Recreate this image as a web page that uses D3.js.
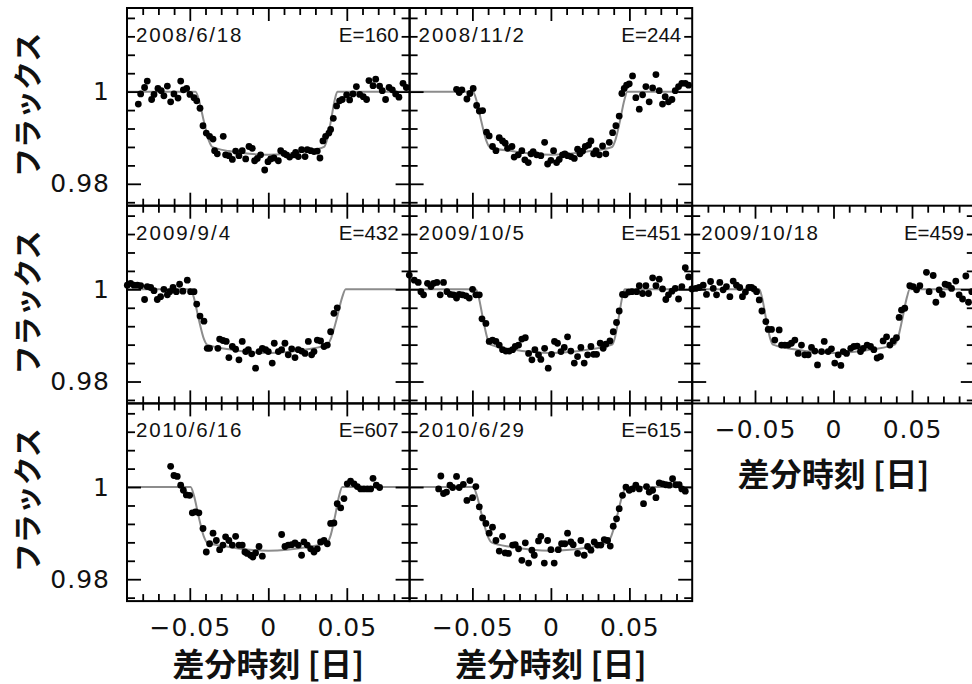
<!DOCTYPE html>
<html><head><meta charset="utf-8">
<script src="https://cdn.jsdelivr.net/npm/d3@7"></script>
<style>body{margin:0;background:#fff}svg{display:block}</style>
</head><body>
<svg id="c" width="972" height="684"></svg>
<script>
// ---------------- data ----------------
const xDomain = [-0.09, 0.09];
const yDomain = [0.97525, 1.01815];
const xMajorTicks = [-0.05, 0, 0.05];
const xTickLabels = ["\u22120.05", "0", "0.05"];
const xMinorTicks = [-0.08,-0.07,-0.06,-0.04,-0.03,-0.02,-0.01,0.01,0.02,0.03,0.04,0.06,0.07,0.08];
const yMajorTicks = [0.98, 1.0];
const yTickLabels = ["0.98", "1"];
const yMinorTicks = [0.976,0.984,0.988,0.992,0.996,1.004,1.008,1.012,1.016];
const panelDates = ["2008/6/18","2008/11/2","2009/9/4","2009/10/5","2009/10/18","2010/6/16","2010/6/29"];
const panelEpochs = [160, 244, 432, 451, 459, 607, 615];
const yTitle = "フラックス";
const xTitle = "差分時刻 [日]";

const obs160 = [[-0.0828,0.9973],[-0.0813,0.9995],[-0.0788,1.0009],[-0.0771,1.0023],[-0.0743,0.9983],[-0.0728,0.9994],[-0.0703,1.0007],[-0.0682,1.0002],[-0.0665,0.9991],[-0.0643,1.0012],[-0.0622,0.9978],[-0.0601,0.9995],[-0.0575,0.9986],[-0.0558,1.0023],[-0.0541,1.0004],[-0.0520,1.0007],[-0.0499,0.9994],[-0.0473,0.9987],[-0.0456,0.9980],[-0.0435,0.9964],[-0.0416,0.9926],[-0.0395,0.9910],[-0.0374,0.9903],[-0.0352,0.9897],[-0.0342,0.9872],[-0.0325,0.9865],[-0.0287,0.9903],[-0.0272,0.9863],[-0.0251,0.9861],[-0.0229,0.9853],[-0.0208,0.9871],[-0.0187,0.9861],[-0.0166,0.9872],[-0.0144,0.9854],[-0.0123,0.9881],[-0.0102,0.9877],[-0.0087,0.9850],[-0.0070,0.9855],[-0.0049,0.9863],[-0.0023,0.9830],[-0.0002,0.9848],[0.0015,0.9854],[0.0036,0.9856],[0.0064,0.9850],[0.0079,0.9872],[0.0100,0.9866],[0.0115,0.9863],[0.0136,0.9858],[0.0163,0.9863],[0.0174,0.9868],[0.0191,0.9859],[0.0212,0.9874],[0.0234,0.9859],[0.0248,0.9874],[0.0270,0.9872],[0.0291,0.9870],[0.0312,0.9871],[0.0329,0.9856],[0.0348,0.9893],[0.0365,0.9903],[0.0386,0.9910],[0.0397,0.9918],[0.0414,0.9942],[0.0435,0.9969],[0.0454,0.9980],[0.0471,0.9983],[0.0499,0.9993],[0.0518,0.9982],[0.0539,0.9995],[0.0561,1.0011],[0.0582,0.9994],[0.0605,0.9989],[0.0626,0.9983],[0.0641,1.0024],[0.0667,1.0013],[0.0684,1.0027],[0.0709,1.0012],[0.0726,1.0002],[0.0747,0.9983],[0.0769,1.0009],[0.0790,1.0004],[0.0811,0.9995],[0.0832,0.9988],[0.0858,1.0018],[0.0879,1.0009]];

const obs244 = [[-0.0601,1.0005],[-0.0584,0.9998],[-0.0567,1.0004],[-0.0535,0.9984],[-0.0516,0.9996],[-0.0495,1.0007],[-0.0473,0.9970],[-0.0456,0.9958],[-0.0435,0.9959],[-0.0410,0.9912],[-0.0393,0.9904],[-0.0372,0.9881],[-0.0350,0.9872],[-0.0329,0.9900],[-0.0308,0.9893],[-0.0291,0.9888],[-0.0276,0.9877],[-0.0248,0.9881],[-0.0234,0.9858],[-0.0208,0.9863],[-0.0185,0.9872],[-0.0166,0.9852],[-0.0144,0.9846],[-0.0127,0.9865],[-0.0113,0.9870],[-0.0091,0.9863],[-0.0064,0.9861],[-0.0040,0.9890],[-0.0021,0.9843],[0.0000,0.9851],[0.0017,0.9872],[0.0036,0.9846],[0.0053,0.9853],[0.0074,0.9863],[0.0089,0.9865],[0.0106,0.9861],[0.0127,0.9859],[0.0149,0.9855],[0.0170,0.9875],[0.0185,0.9865],[0.0202,0.9871],[0.0219,0.9881],[0.0240,0.9884],[0.0255,0.9893],[0.0272,0.9865],[0.0287,0.9872],[0.0308,0.9863],[0.0329,0.9882],[0.0350,0.9865],[0.0372,0.9890],[0.0393,0.9911],[0.0414,0.9926],[0.0435,0.9947],[0.0452,0.9996],[0.0467,1.0007],[0.0482,1.0014],[0.0499,1.0017],[0.0520,1.0034],[0.0541,0.9987],[0.0563,0.9962],[0.0584,0.9993],[0.0605,1.0011],[0.0626,0.9978],[0.0648,1.0008],[0.0669,1.0037],[0.0690,1.0002],[0.0711,0.9973],[0.0728,0.9989],[0.0749,0.9978],[0.0771,0.9983],[0.0792,1.0002],[0.0813,1.0011],[0.0834,1.0018],[0.0856,1.0018],[0.0877,1.0014]];

const obs432 = [[-0.0898,1.0009],[-0.0877,1.0013],[-0.0856,1.0009],[-0.0834,1.0009],[-0.0813,1.0008],[-0.0788,0.9978],[-0.0771,1.0006],[-0.0749,1.0004],[-0.0728,0.9997],[-0.0707,0.9978],[-0.0686,0.9984],[-0.0665,1.0000],[-0.0643,0.9988],[-0.0628,0.9995],[-0.0607,1.0004],[-0.0586,0.9995],[-0.0565,1.0011],[-0.0544,0.9996],[-0.0516,1.0020],[-0.0495,0.9995],[-0.0473,0.9995],[-0.0456,0.9968],[-0.0435,0.9942],[-0.0410,0.9931],[-0.0389,0.9872],[-0.0374,0.9872],[-0.0321,0.9872],[-0.0310,0.9892],[-0.0289,0.9889],[-0.0268,0.9887],[-0.0251,0.9852],[-0.0229,0.9876],[-0.0208,0.9870],[-0.0187,0.9847],[-0.0166,0.9887],[-0.0144,0.9865],[-0.0127,0.9869],[-0.0106,0.9860],[-0.0081,0.9829],[-0.0059,0.9865],[-0.0038,0.9872],[-0.0017,0.9869],[0.0000,0.9865],[0.0025,0.9840],[0.0038,0.9883],[0.0064,0.9865],[0.0085,0.9869],[0.0106,0.9883],[0.0127,0.9858],[0.0149,0.9871],[0.0170,0.9852],[0.0191,0.9869],[0.0212,0.9866],[0.0234,0.9861],[0.0255,0.9887],[0.0276,0.9858],[0.0291,0.9865],[0.0312,0.9890],[0.0333,0.9888],[0.0355,0.9876],[0.0376,0.9879],[0.0397,0.9908],[0.0418,0.9948],[0.0439,0.9960]];

const obs451 = [[-0.0902,1.0031],[-0.0870,1.0020],[-0.0845,1.0015],[-0.0828,0.9995],[-0.0811,0.9988],[-0.0786,1.0013],[-0.0764,1.0006],[-0.0747,1.0013],[-0.0726,1.0015],[-0.0705,0.9988],[-0.0684,1.0015],[-0.0662,0.9995],[-0.0641,0.9989],[-0.0620,0.9988],[-0.0601,0.9981],[-0.0584,0.9989],[-0.0563,0.9988],[-0.0541,0.9986],[-0.0520,0.9981],[-0.0499,1.0000],[-0.0478,0.9988],[-0.0456,0.9988],[-0.0439,0.9936],[-0.0414,0.9926],[-0.0393,0.9887],[-0.0372,0.9890],[-0.0350,0.9887],[-0.0329,0.9879],[-0.0308,0.9869],[-0.0287,0.9866],[-0.0265,0.9866],[-0.0244,0.9869],[-0.0227,0.9876],[-0.0206,0.9879],[-0.0185,0.9892],[-0.0163,0.9895],[-0.0142,0.9861],[-0.0121,0.9847],[-0.0102,0.9869],[-0.0079,0.9858],[-0.0064,0.9848],[-0.0040,0.9872],[-0.0017,0.9829],[0.0004,0.9859],[0.0023,0.9887],[0.0042,0.9883],[0.0064,0.9865],[0.0085,0.9874],[0.0106,0.9897],[0.0127,0.9866],[0.0149,0.9840],[0.0170,0.9854],[0.0191,0.9874],[0.0212,0.9840],[0.0234,0.9858],[0.0255,0.9876],[0.0272,0.9859],[0.0291,0.9859],[0.0314,0.9883],[0.0333,0.9872],[0.0350,0.9881],[0.0376,0.9888],[0.0397,0.9908],[0.0418,0.9928],[0.0435,0.9953],[0.0456,0.9989],[0.0473,0.9988],[0.0495,0.9994],[0.0516,0.9995],[0.0546,0.9995],[0.0563,1.0008],[0.0584,0.9991],[0.0605,1.0008],[0.0622,0.9991],[0.0648,1.0025],[0.0669,1.0008],[0.0690,1.0022],[0.0711,1.0001],[0.0732,0.9978],[0.0749,0.9988],[0.0771,0.9996],[0.0792,1.0002],[0.0813,0.9979],[0.0834,1.0006],[0.0856,1.0047],[0.0877,1.0027],[0.0898,1.0001]];

const obs459 = [[-0.0877,1.0002],[-0.0856,1.0004],[-0.0830,1.0009],[-0.0809,0.9989],[-0.0783,1.0017],[-0.0766,1.0002],[-0.0745,0.9988],[-0.0724,1.0015],[-0.0703,0.9999],[-0.0682,1.0006],[-0.0660,0.9984],[-0.0639,1.0018],[-0.0618,1.0009],[-0.0597,1.0004],[-0.0580,0.9984],[-0.0561,0.9994],[-0.0539,1.0004],[-0.0522,1.0004],[-0.0507,1.0001],[-0.0490,0.9995],[-0.0473,0.9977],[-0.0456,0.9953],[-0.0431,0.9930],[-0.0416,0.9913],[-0.0395,0.9913],[-0.0374,0.9890],[-0.0346,0.9912],[-0.0331,0.9879],[-0.0310,0.9879],[-0.0289,0.9879],[-0.0268,0.9883],[-0.0246,0.9890],[-0.0225,0.9861],[-0.0204,0.9879],[-0.0183,0.9858],[-0.0161,0.9858],[-0.0140,0.9874],[-0.0119,0.9866],[-0.0102,0.9836],[-0.0076,0.9865],[-0.0059,0.9887],[-0.0034,0.9865],[-0.0013,0.9871],[0.0008,0.9840],[0.0030,0.9858],[0.0047,0.9835],[0.0062,0.9865],[0.0083,0.9861],[0.0110,0.9872],[0.0130,0.9876],[0.0151,0.9877],[0.0172,0.9865],[0.0189,0.9872],[0.0214,0.9879],[0.0236,0.9876],[0.0257,0.9869],[0.0278,0.9851],[0.0299,0.9854],[0.0316,0.9888],[0.0338,0.9897],[0.0359,0.9879],[0.0380,0.9888],[0.0401,0.9895],[0.0418,0.9939],[0.0433,0.9955],[0.0454,0.9959],[0.0486,1.0008],[0.0507,1.0006],[0.0529,0.9999],[0.0550,1.0008],[0.0592,1.0037],[0.0609,0.9995],[0.0635,1.0030],[0.0652,0.9972],[0.0673,0.9999],[0.0694,0.9989],[0.0711,1.0011],[0.0732,1.0009],[0.0752,1.0002],[0.0779,1.0018],[0.0800,0.9988],[0.0822,0.9979],[0.0843,1.0029],[0.0860,0.9972],[0.0881,0.9995]];

const obs607 = [[-0.0622,1.0045],[-0.0601,1.0025],[-0.0580,1.0023],[-0.0558,1.0004],[-0.0541,0.9993],[-0.0522,0.9983],[-0.0501,0.9982],[-0.0484,0.9944],[-0.0463,0.9946],[-0.0442,0.9944],[-0.0416,0.9910],[-0.0395,0.9859],[-0.0374,0.9877],[-0.0352,0.9900],[-0.0331,0.9884],[-0.0310,0.9864],[-0.0289,0.9874],[-0.0272,0.9892],[-0.0251,0.9884],[-0.0229,0.9874],[-0.0208,0.9893],[-0.0187,0.9874],[-0.0166,0.9874],[-0.0149,0.9859],[-0.0134,0.9856],[-0.0113,0.9852],[-0.0098,0.9848],[-0.0081,0.9857],[-0.0059,0.9871],[-0.0038,0.9850],[0.0085,0.9897],[0.0106,0.9871],[0.0127,0.9874],[0.0149,0.9875],[0.0170,0.9879],[0.0191,0.9874],[0.0212,0.9852],[0.0227,0.9881],[0.0248,0.9874],[0.0270,0.9866],[0.0291,0.9859],[0.0312,0.9866],[0.0333,0.9881],[0.0355,0.9884],[0.0376,0.9877],[0.0397,0.9921],[0.0418,0.9922],[0.0439,0.9964],[0.0461,0.9955],[0.0482,0.9975],[0.0503,1.0007],[0.0524,1.0013],[0.0546,1.0007],[0.0567,1.0001],[0.0588,0.9996],[0.0609,0.9996],[0.0631,0.9996],[0.0652,0.9996],[0.0667,1.0019],[0.0688,1.0004],[0.0709,0.9999]];

const obs615 = [[-0.0715,0.9996],[-0.0701,1.0024],[-0.0684,0.9986],[-0.0665,0.9989],[-0.0643,1.0004],[-0.0626,0.9999],[-0.0601,1.0023],[-0.0584,0.9999],[-0.0558,1.0006],[-0.0535,0.9971],[-0.0516,1.0014],[-0.0499,0.9977],[-0.0478,1.0001],[-0.0456,0.9957],[-0.0435,0.9933],[-0.0414,0.9921],[-0.0393,0.9900],[-0.0372,0.9913],[-0.0350,0.9884],[-0.0329,0.9861],[-0.0308,0.9893],[-0.0291,0.9857],[-0.0270,0.9856],[-0.0244,0.9874],[-0.0227,0.9875],[-0.0206,0.9866],[-0.0185,0.9841],[-0.0163,0.9879],[-0.0142,0.9835],[-0.0121,0.9863],[-0.0106,0.9852],[-0.0079,0.9883],[-0.0064,0.9893],[-0.0042,0.9835],[-0.0021,0.9884],[0.0000,0.9864],[0.0021,0.9835],[0.0047,0.9864],[0.0068,0.9877],[0.0089,0.9877],[0.0106,0.9900],[0.0127,0.9881],[0.0142,0.9875],[0.0170,0.9856],[0.0191,0.9884],[0.0212,0.9852],[0.0234,0.9871],[0.0255,0.9863],[0.0276,0.9881],[0.0297,0.9874],[0.0318,0.9874],[0.0340,0.9886],[0.0361,0.9884],[0.0378,0.9872],[0.0397,0.9915],[0.0418,0.9931],[0.0435,0.9953],[0.0456,0.9982],[0.0478,1.0000],[0.0499,0.9993],[0.0520,0.9996],[0.0541,1.0004],[0.0563,0.9996],[0.0590,0.9964],[0.0609,1.0001],[0.0626,0.9989],[0.0648,0.9993],[0.0669,0.9977],[0.0690,1.0009],[0.0711,1.0007],[0.0732,1.0005],[0.0754,1.0004],[0.0775,1.0018],[0.0796,1.0005],[0.0817,1.0005],[0.0834,0.9996],[0.0856,0.9991]];

// model light curves (key points)
const model160 = [[-0.09,1],[-0.0463,1],[-0.0442,0.9982],[-0.0410,0.9935],[-0.0378,0.9893],[-0.0357,0.9880],[-0.025,0.9871],[-0.012,0.9865],[0,0.9863],[0.012,0.9865],[0.025,0.9871],[0.0355,0.9880],[0.0372,0.9893],[0.0398,0.9935],[0.0423,0.9982],[0.0440,1],[0.09,1]];
const model244 = [[-0.09,1],[-0.0496,1],[-0.0475,0.9982],[-0.0443,0.9935],[-0.0411,0.9893],[-0.0390,0.9880],[-0.025,0.9871],[-0.012,0.9865],[0,0.9863],[0.012,0.9865],[0.025,0.9871],[0.0390,0.9880],[0.0409,0.9893],[0.0439,0.9935],[0.0468,0.9982],[0.0487,1],[0.09,1]];
const model432 = [[-0.09,1],[-0.0495,1],[-0.0474,0.9982],[-0.0443,0.9935],[-0.0411,0.9893],[-0.0390,0.9880],[-0.025,0.9870],[-0.012,0.9864],[0,0.9862],[0.012,0.9864],[0.025,0.9870],[0.0376,0.9880],[0.0399,0.9893],[0.0435,0.9935],[0.0470,0.9982],[0.0493,1],[0.09,1]];
const model451 = [[-0.09,1],[-0.0478,1],[-0.0459,0.9982],[-0.0432,0.9935],[-0.0404,0.9893],[-0.0385,0.9880],[-0.025,0.9870],[-0.012,0.9864],[0,0.9862],[0.012,0.9864],[0.025,0.9870],[0.0390,0.9880],[0.0406,0.9893],[0.0430,0.9935],[0.0454,0.9982],[0.0470,1],[0.09,1]];
const model459 = [[-0.09,1],[-0.0473,1],[-0.0455,0.9982],[-0.0429,0.9935],[-0.0403,0.9893],[-0.0385,0.9880],[-0.025,0.9870],[-0.012,0.9864],[0,0.9862],[0.012,0.9864],[0.025,0.9870],[0.0390,0.9880],[0.0409,0.9893],[0.0438,0.9935],[0.0467,0.9982],[0.0486,1],[0.09,1]];
const model607 = [[-0.09,1],[-0.0495,1],[-0.0474,0.9982],[-0.0443,0.9935],[-0.0411,0.9893],[-0.0390,0.9880],[-0.025,0.9870],[-0.012,0.9864],[0,0.9862],[0.012,0.9864],[0.025,0.9870],[0.0376,0.9880],[0.0395,0.9893],[0.0424,0.9935],[0.0452,0.9982],[0.0471,1],[0.09,1]];
const model615 = [[-0.09,1],[-0.0495,1],[-0.0472,0.9982],[-0.0437,0.9935],[-0.0402,0.9893],[-0.0378,0.9880],[-0.025,0.9870],[-0.012,0.9864],[0,0.9862],[0.012,0.9864],[0.025,0.9870],[0.0361,0.9880],[0.0384,0.9893],[0.0420,0.9935],[0.0455,0.9982],[0.0478,1],[0.09,1]];

const observations = [obs160, obs244, obs432, obs451, obs459, obs607, obs615];
const models = [model160, model244, model432, model451, model459, model607, model615];

// ---------------- layout ----------------
const PW = 282.6, PH = 197.7;
const colLeft = [127, 409.6, 692.2];
const rowTop = [8, 205.7, 403.4];
const gridPos = [[0,0],[1,0],[0,1],[1,1],[2,1],[0,2],[1,2]];
const bottomLabelled = [false,false,false,false,true,true,true];
const xTitleBaseline = {1: 486, 2: 676};

const svg = d3.select("#c");
const x = d3.scaleLinear().domain(xDomain).range([0, PW]);
const y = d3.scaleLinear().domain(yDomain).range([PH, 0]);
const line = d3.line().x(d => x(d[0])).y(d => y(d[1])).curve(d3.curveMonotoneX);

const tickFont = "'DejaVu Sans', Verdana, sans-serif";
const labelFont = "'Liberation Sans', Arial, sans-serif";

function styleAxis(sel) {
  sel.select(".domain").remove();
  sel.selectAll(".tick line").attr("stroke", "#000").attr("stroke-width", 1.8);
  sel.selectAll(".tick text").attr("fill", "#111").attr("font-size", 25)
     .attr("font-family", tickFont).attr("letter-spacing", "1px");
}

panelDates.forEach((date, i) => {
  const [c, r] = gridPos[i];
  const g = svg.append("g").attr("transform", `translate(${colLeft[c]},${rowTop[r]})`);

  // model curve
  g.append("path").datum(models[i]).attr("d", line)
    .attr("fill", "none").attr("stroke", "#8c8c8c").attr("stroke-width", 2);

  // observations
  g.append("g").selectAll("circle").data(observations[i]).join("circle")
    .attr("cx", d => x(d[0])).attr("cy", d => y(d[1])).attr("r", 3.4).attr("fill", "#000");

  // ticks: minor then major on all four sides
  const sides = [
    [d3.axisBottom, `translate(0,${PH})`, x, xMinorTicks, xMajorTicks, -7, -13],
    [d3.axisTop, `translate(0,0)`, x, xMinorTicks, xMajorTicks, -7, -13],
    [d3.axisLeft, `translate(0,0)`, y, yMinorTicks, yMajorTicks, -8, -14],
    [d3.axisRight, `translate(${PW},0)`, y, yMinorTicks, yMajorTicks, -8, -14]
  ];
  sides.forEach(([axFn, tr, sc, minor, major, lmin, lmaj], k) => {
    g.append("g").attr("transform", tr)
      .call(axFn(sc).tickValues(minor).tickSize(lmin).tickFormat(""))
      .call(styleAxis);
    let ax = axFn(sc).tickValues(major).tickSize(lmaj);
    const labelled = (k === 0 && bottomLabelled[i]) || (k === 2 && c === 0);
    if (k === 0) ax = ax.tickPadding(17).tickFormat((d, j) => labelled ? xTickLabels[j] : "");
    else if (k === 2) ax = ax.tickPadding(17).tickFormat((d, j) => labelled ? yTickLabels[j] : "");
    else ax = ax.tickFormat("");
    g.append("g").attr("transform", tr).call(ax).call(styleAxis);
  });

  // frame
  g.append("rect").attr("x", 0).attr("y", 0).attr("width", PW).attr("height", PH)
    .attr("fill", "none").attr("stroke", "#000").attr("stroke-width", 2);

  // panel labels
  const slashes = (date.match(/\//g) || []).length;
  g.append("text").attr("x", 9).attr("y", 34)
    .attr("font-family", labelFont).attr("font-size", 20.5).attr("fill", "#111")
    .attr("textLength", (date.length - slashes) * 11.2 + slashes * 13.5).attr("lengthAdjust", "spacing")
    .text(date);
  g.append("text").attr("x", PW - 11).attr("y", 34).attr("text-anchor", "end")
    .attr("font-family", labelFont).attr("font-size", 20.5).attr("fill", "#111")
    .text("E=" + panelEpochs[i]);

  // axis titles
  if (c === 0) {
    svg.append("text")
      .attr("transform", `translate(26,${rowTop[r] + PH / 2 - 2}) rotate(-90)`)
      .attr("text-anchor", "middle").attr("dominant-baseline", "central")
      .attr("font-family", "'Noto Sans CJK JP', sans-serif").attr("font-weight", 700)
      .attr("font-size", 29).attr("fill", "#111").text(yTitle);
  }
  if (bottomLabelled[i]) {
    svg.append("text").attr("x", colLeft[c] + x(0)).attr("y", xTitleBaseline[r])
      .attr("text-anchor", "middle")
      .attr("font-family", "'Noto Sans CJK JP', sans-serif").attr("font-weight", 700)
      .attr("font-size", 32).attr("fill", "#111").text(xTitle);
  }
});
</script>
</body></html>
